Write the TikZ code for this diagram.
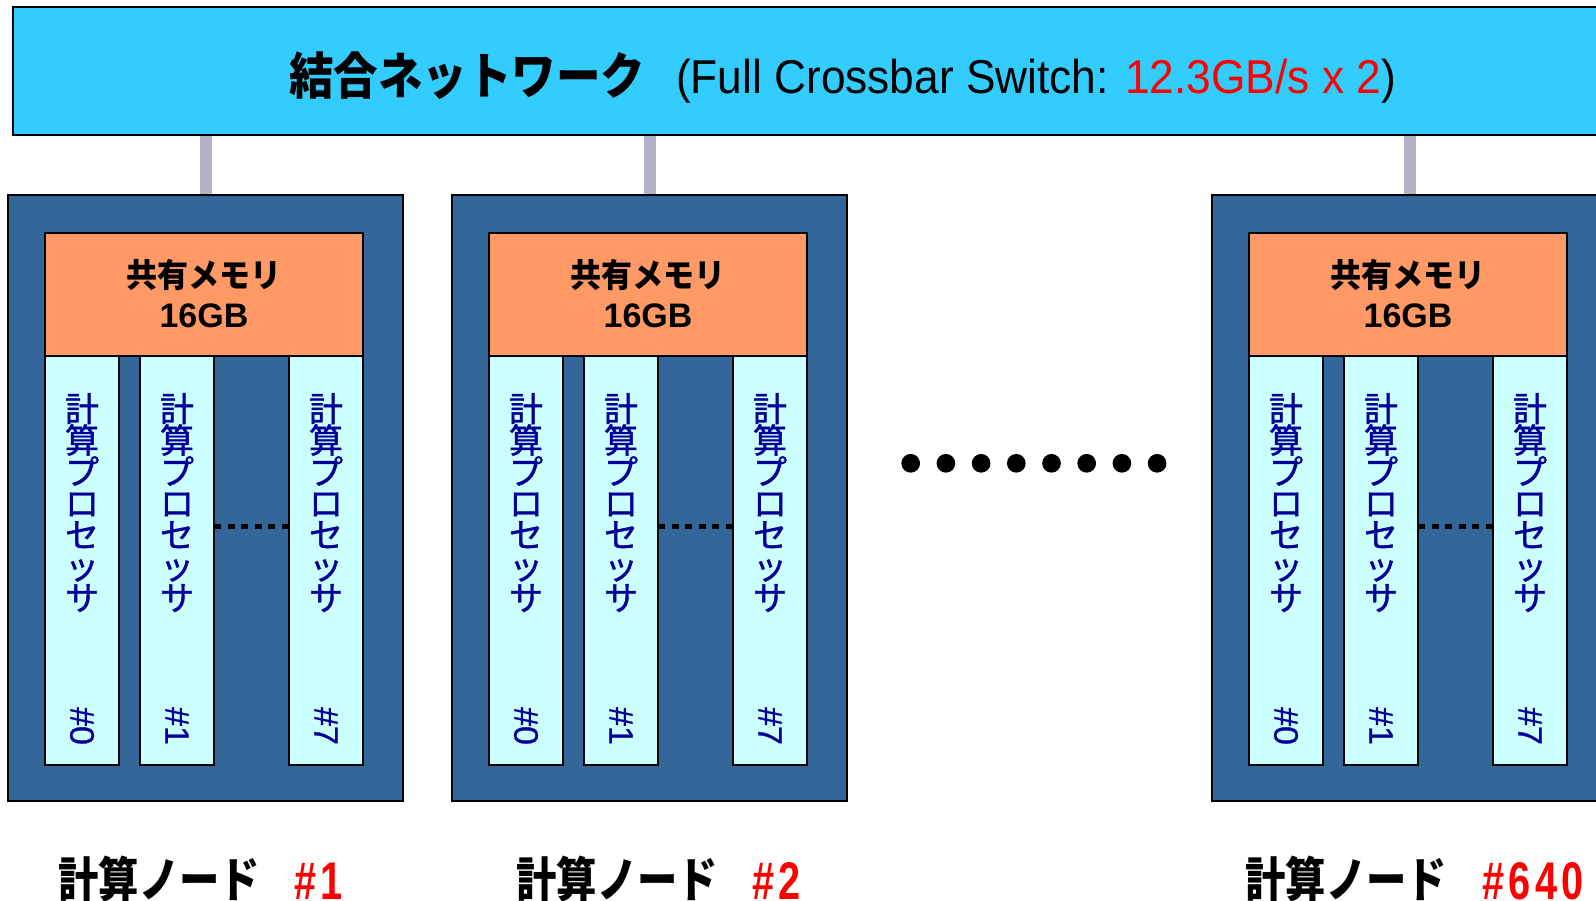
\documentclass[tikz,border=0pt]{standalone}
\usepackage{fontspec}
\setmainfont{Liberation Sans}
\newfontfamily\jp{Noto Sans CJK JP}
\newfontfamily\jpmed{Noto Sans CJK JP}[FakeBold=1.2]
\newfontfamily\latmed{Liberation Sans}[FakeBold=0.8]
\usetikzlibrary{backgrounds}
\definecolor{hdrblue}{RGB}{51,204,255}
\definecolor{nodeblue}{RGB}{51,102,153}
\definecolor{memorange}{RGB}{255,153,102}
\definecolor{proccyan}{RGB}{204,255,255}
\definecolor{linkgray}{RGB}{178,178,199}
\definecolor{procblue}{RGB}{0,0,153}
\newcommand\rdch[1]{\makebox[26.5pt]{\scalebox{0.75}[1]{#1}}}
\begin{document}
\begin{tikzpicture}[x=1pt,y=-1pt,
  every node/.style={inner sep=0pt, outer sep=0pt},
  hdr/.style={draw=black, line width=2pt, fill=hdrblue, anchor=north west, minimum width=1620, minimum height=128},
  nodebox/.style={draw=black, line width=2pt, fill=nodeblue, anchor=north west, minimum width=395, minimum height=606},
  membox/.style={draw=black, line width=1.5pt, fill=memorange, anchor=north west, minimum width=318, minimum height=123},
  procbox/.style={draw=black, line width=1.5pt, fill=proccyan, anchor=north west, minimum width=74, minimum height=409},
  link/.style={draw=linkgray, line width=12pt},
  bigdot/.style={circle, fill=black, minimum size=18.7pt},
  dotline/.style={draw=black, line width=5pt, dash pattern=on 7pt off 6.5pt},
  proctxt/.style={font=\jpmed\fontsize{34}{34}\selectfont, text=procblue, anchor=base},
  proclbl/.style={font=\latmed\fontsize{34}{34}\selectfont, text=procblue, rotate=-90},
  memtxt/.style={font=\jp\bfseries\fontsize{33}{33}\selectfont, anchor=base},
  memnum/.style={font=\bfseries\fontsize{34}{34}\selectfont, anchor=base},
  hdrjp/.style={font=\jp\bfseries\fontsize{50}{50}\selectfont, anchor=base west},
  hdrlat/.style={font=\fontsize{47.5}{47.5}\selectfont, anchor=base west},
  lbljp/.style={font=\jp\bfseries\fontsize{48}{48}\selectfont, anchor=base west},
  lblnum/.style={font=\bfseries\fontsize{53}{53}\selectfont, text=red, anchor=base west}
]
\useasboundingbox (0,0) rectangle (1596,901);
\clip (0,0) rectangle (1596,901);

% interconnect
\node[hdr] (hdr) at (13,7) {};
\node[hdrjp] (hjp) at (289,95) {\scalebox{0.89}[1]{結合ネットワーク}};
\node[hdrlat] (hlat) at (676,94) {\scalebox{0.932}[1]{(Full Crossbar Switch: \textcolor{red}{12.3GB/s x 2})}};

% compute nodes
\foreach \L/\n in {8/1, 452/2, 1212/3}{
  \node[nodebox] (n\n) at (\L,195) {};
  \begin{scope}[on background layer]
    \draw[link] (n\n.north) -- (n\n.north |- hdr.south);
  \end{scope}
  \node[membox] (m\n) at (\L+37,233) {};
  \node[memtxt] (mt\n) at (\L+196,288) {\scalebox{0.94}[1]{共有メモリ}};
  \node[memnum] (mn\n) at (\L+196,328) {16GB};
  \foreach \off/\p in {37/0, 132/1, 281/7}{
    \node[procbox] (p\n-\p) at (\L+\off,356) {};
    \foreach \c [count=\k from 0] in {計,算,プ,ロ,セ,ッ,サ}{
      \node[proctxt] (t\n-\p-\k) at (\L+\off+37,421.5+31.5*\k) {\c};
    }
    \node[proclbl] (h\n-\p) at (\L+\off+37,726) {\#\p};
  }
  \draw[dotline] (p\n-1.east |- 0,526) -- (p\n-7.west |- 0,526);
}

% ellipsis dots
\foreach \k in {0,...,7}{
  \node[bigdot] (d\k) at (910.7+35.2*\k,463.3) {};
}

% node labels
\node[lbljp] (l1) at (58.5,897) {\scalebox{0.84}[1]{計算ノード}};
\node[lblnum] (r1) at (292,899) {\rdch{\#}\rdch{1}};
\node[lbljp] (l2) at (516.5,897) {\scalebox{0.84}[1]{計算ノード}};
\node[lblnum] (r2) at (750,899) {\rdch{\#}\rdch{2}};
\node[lbljp] (l3) at (1245.5,897) {\scalebox{0.84}[1]{計算ノード}};
\node[lblnum] (r3) at (1480,899) {\rdch{\#}\rdch{6}\rdch{4}\rdch{0}};
\end{tikzpicture}
\end{document}
